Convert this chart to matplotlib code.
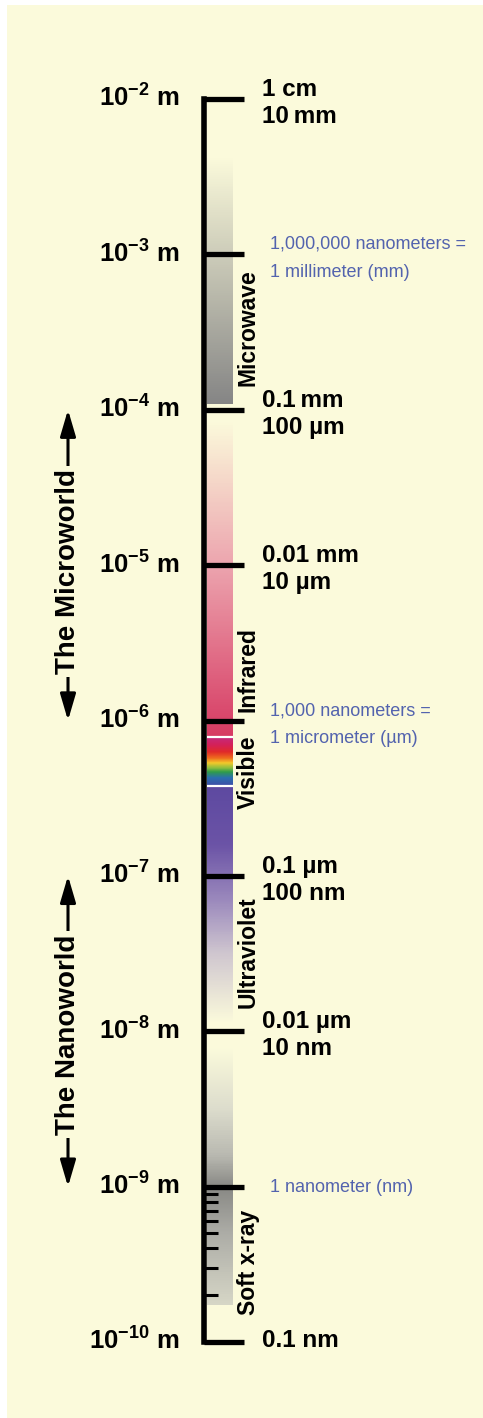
import matplotlib
matplotlib.use('Agg')
import matplotlib.pyplot as plt
import numpy as np
from matplotlib import font_manager
from matplotlib.colors import LinearSegmentedColormap
from matplotlib.patches import Rectangle
from matplotlib.ticker import FixedLocator, NullFormatter

# ----------------------------------------------------------------------------------------------------------------------
BG = '#fbfadb'
BLUE = '#5363ae'
PT = 72 / 100  # pixels -> points at dpi 100

# ruler: log10 of the length in metres
decades = [-2, -3, -4, -5, -6, -7, -8, -9, -10]
left_labels = [r'$10^{-2}$ m', r'$10^{-3}$ m', r'$10^{-4}$ m', r'$10^{-5}$ m', r'$10^{-6}$ m',
               r'$10^{-7}$ m', r'$10^{-8}$ m', r'$10^{-9}$ m', r'$10^{-10}$ m']
minor_ticks = [2e-10, 3e-10, 4e-10, 5e-10, 6e-10, 7e-10, 8e-10, 9e-10]

right_labels = {-2: ['1 cm', '10\u2009mm'],
                -4: ['0.1\u2009mm', '100 µm'],
                -5: ['0.01 mm', '10 µm'],
                -7: ['0.1 µm', '100 nm'],
                -8: ['0.01 µm', '10 nm'],
                -10: ['0.1 nm']}
blue_labels = {-3: ['1,000,000 nanometers =', '1 millimeter (mm)'],
               -6: ['1,000 nanometers =', '1 micrometer (µm)'],
               -9: ['1 nanometer (nm)']}

# colour bands: (log10 metres, colour) stops
microwave_stops = [(-2.37, BG), (-3.96, '#858585')]
infrared_stops = [(-4.07, BG), (-5.0, '#eca4ae'), (-6.108, '#d63a62')]
visible_stops = [(-6.108, '#c42a7c'), (-6.157, '#d42058'), (-6.202, '#e02a28'), (-6.241, '#ee6c1e'),
                 (-6.273, '#f2c82a'), (-6.305, '#8cbe3e'), (-6.331, '#2e9c4a'), (-6.369, '#2a6eb0'),
                 (-6.42, '#3e4ea6')]
uv_stops = [(-6.42, '#5d49a0'), (-6.80, '#6b53a6'), (-7.15, '#9a88bc'), (-7.5, '#cfc6cf'), (-7.95, BG)]
xray_stops = [(-8.1, BG), (-8.5, '#dcdccc'), (-8.8, '#b8b8b0'), (-9.0, '#888884'), (-9.3, '#acaca6'),
              (-9.76, '#d6d6c6')]
visible_edges = [7.8e-7, 3.8e-7]

band_names = ['Microwave', 'Infrared', 'Visible', 'Ultraviolet', 'Soft x-ray']
band_label_pos = [-3.47, -5.675, -6.33, -7.49, -9.49]

worlds = ['The Microworld', 'The Nanoworld']
world_ranges = [(1e-4, 1e-6), (1e-7, 1e-9)]
world_label_pos = [-5.04, -8.02]

# ----------------------------------------------------------------------------------------------------------------------
plt.rcParams.update({
    "font.family": ["Liberation Sans", "DejaVu Sans"],
    "font.weight": "bold",
    "mathtext.default": "regular",
})
names = {f.name for f in font_manager.fontManager.ttflist}
narrow = 'Liberation Sans Narrow' in names
blue_family = ['Liberation Sans Narrow', 'Liberation Sans'] if narrow else ['Liberation Sans']
blue_size = 15 if narrow else 13

fig = plt.figure(figsize=(4.83, 14.18), dpi=100, facecolor='white')
fig.patches.append(Rectangle((7 / 483, 0), 1, 1 - 5 / 1418, transform=fig.transFigure,
                             facecolor=BG, edgecolor='none', zorder=-10))
ax = fig.add_axes([0, 0, 1, 1])
ax.set_facecolor('none')
ax.set_xlim(0, 483)
ax.set_yscale('log')
ax.set_ylim(10 ** -10.489, 10 ** -1.3629)

for side in ['top', 'right', 'bottom']:
    ax.spines[side].set_visible(False)
ax.xaxis.set_visible(False)
sp = ax.spines['left']
sp.set_position(('data', 203.5))
sp.set_bounds(10.0 ** decades[-1], 10.0 ** decades[0])
sp.set_linewidth(4)
sp.set_capstyle('projecting')

ax.yaxis.set_major_locator(FixedLocator([10.0 ** d for d in decades]))
ax.yaxis.set_minor_locator(FixedLocator(minor_ticks))
ax.yaxis.set_major_formatter(NullFormatter())
ax.yaxis.set_minor_formatter(NullFormatter())
ax.tick_params(axis='y', which='major', direction='in', length=40 * PT, width=3.8, color='black',
               left=True, right=False, labelleft=False)
ax.tick_params(axis='y', which='minor', direction='in', length=14 * PT, width=2.2, color='black',
               left=True, right=False, labelleft=False)


def band(stops, name):
    stops = sorted(stops)
    lo, hi = stops[0][0], stops[-1][0]
    cmap = LinearSegmentedColormap.from_list(name, [((v - lo) / (hi - lo), c) for v, c in stops])
    edges = np.linspace(lo, hi, 400)
    mids = (edges[:-1] + edges[1:]) / 2
    ax.pcolormesh([207, 233], 10 ** edges, mids[:, None], cmap=cmap, vmin=lo, vmax=hi,
                  shading='flat', zorder=1, rasterized=True)


band(microwave_stops, 'mw')
band(infrared_stops, 'ir')
band(visible_stops, 'vis')
band(uv_stops, 'uv')
band(xray_stops, 'xr')
ax.hlines(visible_edges, 207, 233, colors='white', lw=1.6, zorder=1.5)

for name, pos in zip(band_names, band_label_pos):
    ax.text(248, 10 ** pos, name, rotation=90, ha='center', va='center', fontsize=16.5,
            fontweight='bold', zorder=3)

# left decade labels
for d, lab in zip(decades, left_labels):
    ax.annotate(lab, xy=(180, 10.0 ** d), xytext=(0, -8 * PT), textcoords='offset points',
                ha='right', va='baseline', fontsize=18.5, fontweight='bold')

# right labels
for d, lines in right_labels.items():
    offs = [-3, 24] if len(lines) == 2 else [5]
    for txt, o in zip(lines, offs):
        ax.annotate(txt, xy=(262, 10.0 ** d), xytext=(0, -o * PT), textcoords='offset points',
                    ha='left', va='baseline', fontsize=17.5, fontweight='bold')
for d, lines in blue_labels.items():
    offs = [-5.5, 22.5] if len(lines) == 2 else [5]
    for txt, o in zip(lines, offs):
        ax.annotate(txt, xy=(270, 10.0 ** d), xytext=(0, -o * PT), textcoords='offset points',
                    ha='left', va='baseline', fontsize=blue_size, fontweight='normal',
                    family=blue_family, color=BLUE)

# microworld / nanoworld arrows
for name, (top, bot), pos in zip(worlds, world_ranges, world_label_pos):
    ax.annotate('', xy=(68, top), xytext=(68, bot),
                arrowprops=dict(arrowstyle='<|-|>,head_length=16,head_width=4.7', mutation_scale=1,
                                lw=2.2, color='black', shrinkA=0, shrinkB=0), zorder=3)
    ax.text(68, 10 ** pos, name, rotation=90, ha='center', va='center', fontsize=20,
            fontweight='bold', zorder=4,
            bbox=dict(boxstyle='square,pad=0.12', fc=BG, ec='none'))

fig.savefig('out.png', dpi=100, facecolor=fig.get_facecolor())
